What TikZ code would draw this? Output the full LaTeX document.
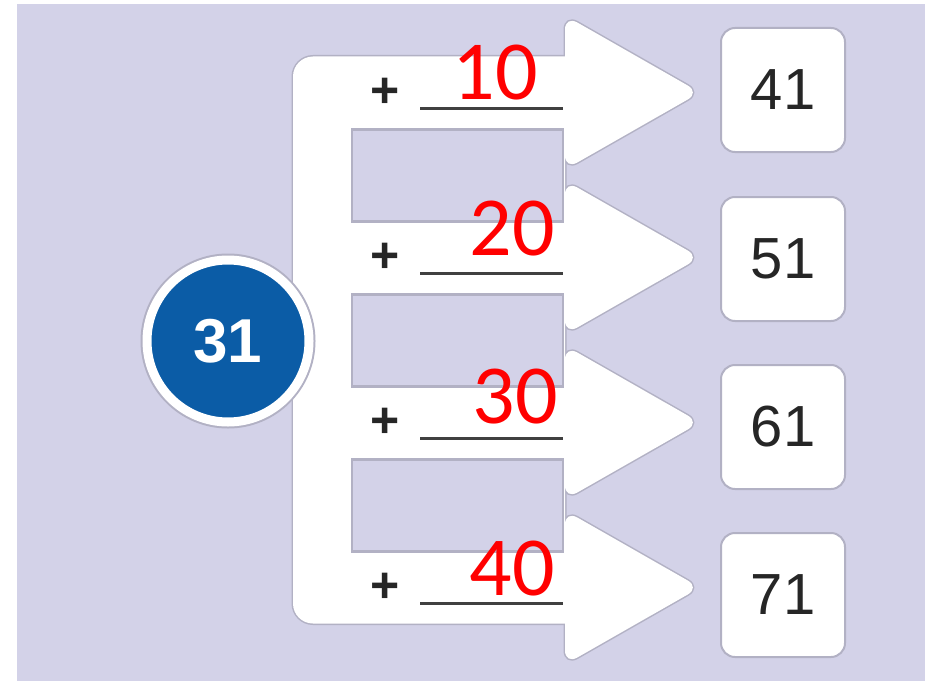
\documentclass[tikz,border=0pt]{standalone}
\usepackage{fontspec}
\setmainfont{Liberation Sans}
\newfontfamily\answerfont{Carlito}
\usepackage{xcolor}

\definecolor{lav}{HTML}{D3D2E8}
\definecolor{ballblue}{HTML}{0B5CA6}
\definecolor{edge}{HTML}{B2B1C4}

\begin{document}
\begin{tikzpicture}[x=1pt, y=-1pt,
  shadow/.style={draw=edge, fill=edge, line width=3pt},
  gap/.style={fill=lav, draw=edge, line width=2.5pt},
  ball/.style={circle, fill=ballblue, draw=white, line width=9pt,
    minimum size=162pt, inner sep=0pt, text=white,
    font=\fontsize{62}{62}\selectfont\bfseries,
    preaction={draw=edge, line width=13pt}},
  result/.style={draw=edge, line width=2pt, fill=white, rounded corners=14pt,
    minimum width=124pt, minimum height=124pt, inner sep=0pt,
    font=\fontsize{58}{58}\selectfont, text=black!85},
  plus/.style={inner sep=0pt, font=\fontsize{50}{50}\selectfont\bfseries, text=black!85},
  blank/.style={line width=3pt, black!75},
  answer/.style={inner sep=0pt, font=\answerfont\fontsize{84}{84}\selectfont, text=red}
]
\useasboundingbox (0,0) rectangle (925,682);
\fill[white] (0,0) rectangle (925,682);
\fill[lav] (17,4) rectangle (925,681);

% bracket and arrow heads, shadow pass
\draw[shadow] (565,56.5) [rounded corners=20pt] -- (293,56.5) -- (293,623.5) [sharp corners] -- (565,623.5) -- cycle;
\draw[shadow, rounded corners=14pt] (565,15.5) -- (700,92.5) -- (565,169.5) -- cycle;
\draw[shadow, rounded corners=14pt] (565,180.5) -- (700,257.5) -- (565,334.5) -- cycle;
\draw[shadow, rounded corners=14pt] (565,345.5) -- (700,422.5) -- (565,499.5) -- cycle;
\draw[shadow, rounded corners=14pt] (565,510.5) -- (700,587.5) -- (565,664.5) -- cycle;

% white pass
\fill[white] (565,56.5) [rounded corners=20pt] -- (293,56.5) -- (293,623.5) [sharp corners] -- (565,623.5) -- cycle;
\fill[white, rounded corners=14pt] (565,15.5) -- (700,92.5) -- (565,169.5) -- cycle;
\fill[white, rounded corners=14pt] (565,180.5) -- (700,257.5) -- (565,334.5) -- cycle;
\fill[white, rounded corners=14pt] (565,345.5) -- (700,422.5) -- (565,499.5) -- cycle;
\fill[white, rounded corners=14pt] (565,510.5) -- (700,587.5) -- (565,664.5) -- cycle;

% gaps between the shafts
\draw[gap] (352,129.5) rectangle (563,221.5);
\draw[gap] (352,294.5) rectangle (563,386.5);
\draw[gap] (352,459.5) rectangle (563,551.5);

% start number
\node[ball] (start) at (228,341) {31};

% rows
\node[plus] (p1) at (385,93) {+};
\node[plus] (p2) at (385,258) {+};
\node[plus] (p3) at (385,423) {+};
\node[plus] (p4) at (385,588) {+};

\draw[blank] (420,108.5) -- (563,108.5);
\draw[blank] (420,273.5) -- (563,273.5);
\draw[blank] (420,438.5) -- (563,438.5);
\draw[blank] (420,603.5) -- (563,603.5);

\node[answer] (a1) at (495,73) {10};
\node[answer] (a2) at (512,229) {20};
\node[answer] (a3) at (515,397) {30};
\node[answer] (a4) at (512,569) {40};

\node[result] (r1) at (783,90) {41};
\node[result] (r2) at (783,259) {51};
\node[result] (r3) at (783,427) {61};
\node[result] (r4) at (783,595) {71};
\end{tikzpicture}
\end{document}
